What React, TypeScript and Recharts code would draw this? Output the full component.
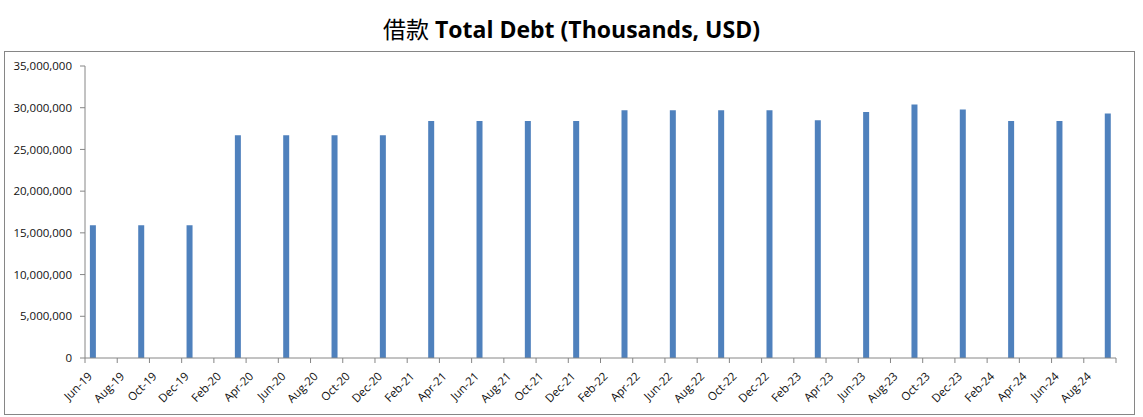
import { BarChart, Bar, XAxis, YAxis } from 'recharts';

// quarter-end dates (yyyy-mm) and total debt in thousands USD
const quarters = [
  '2019-06', '2019-09', '2019-12',
  '2020-03', '2020-06', '2020-09', '2020-12',
  '2021-03', '2021-06', '2021-09', '2021-12',
  '2022-03', '2022-06', '2022-09', '2022-12',
  '2023-03', '2023-06', '2023-09', '2023-12',
  '2024-03', '2024-06', '2024-09',
];
const debt = [
  15900000, 15900000, 15900000,
  26700000, 26700000, 26700000, 26700000,
  28400000, 28400000, 28400000, 28400000,
  29700000, 29700000, 29700000, 29700000,
  28500000, 29500000, 30400000, 29800000,
  28400000, 28400000, 29300000,
];
const tickLabels = [
  'Jun-19', 'Aug-19', 'Oct-19', 'Dec-19', 'Feb-20', 'Apr-20', 'Jun-20', 'Aug-20',
  'Oct-20', 'Dec-20', 'Feb-21', 'Apr-21', 'Jun-21', 'Aug-21', 'Oct-21', 'Dec-21',
  'Feb-22', 'Apr-22', 'Jun-22', 'Aug-22', 'Oct-22', 'Dec-22', 'Feb-23', 'Apr-23',
  'Jun-23', 'Aug-23', 'Oct-23', 'Dec-23', 'Feb-24', 'Apr-24', 'Jun-24', 'Aug-24',
];
const yTicks = [0, 5000000, 10000000, 15000000, 20000000, 25000000, 30000000, 35000000];

const START_YEAR = 2019;
const START_MONTH = 6;
const MONTHS = 64; // Jun-19 .. Sep-24

// month slot index, bar centered inside its month
const data = quarters.map((q, i) => {
  const [y, m] = q.split('-').map(Number);
  return { x: (y - START_YEAR) * 12 + (m - START_MONTH) + 0.5, debt: debt[i] };
});

const xTicks = Array.from({ length: MONTHS / 2 + 1 }, (_, i) => i * 2);

const AXIS = '#868686';
const FONT = '"Open Sans", "Noto Sans", sans-serif';

function MonthTick({ x, y, payload }: any) {
  const label = tickLabels[payload.value / 2] ?? '';
  const ax = x + 8;
  const ay = y + 12;
  return (
    <text
      x={ax}
      y={ay}
      transform={`rotate(-45, ${ax}, ${ay})`}
      textAnchor="end"
      fontSize={11.5}
      fontFamily={FONT}
      fill="#111"
    >
      {label}
    </text>
  );
}

export default function App() {
  return (
    <div style={{ position: 'absolute', left: 0, top: 0, width: 1143, height: 417, background: '#fff' }}>
      <div
        style={{
          position: 'absolute', left: 0, top: 11, width: 1143, textAlign: 'center',
          fontFamily: FONT, fontSize: 23, fontWeight: 700, color: '#000',
        }}
      >
        <span style={{ fontFamily: '"Noto Sans CJK SC", sans-serif', fontWeight: 400 }}>借款</span> Total Debt (Thousands, USD)
      </div>
      <div
        style={{
          position: 'absolute', left: 4, top: 51, width: 1129, height: 362,
          border: `1px solid ${AXIS}`,
        }}
      />
      <div style={{ position: 'absolute', left: 0, top: 0 }}>
        <BarChart
          width={1143}
          height={417}
          data={data}
          margin={{ top: 66, right: 27, left: 5, bottom: 9 }}
        >
          <XAxis
            dataKey="x"
            type="number"
            domain={[0, MONTHS]}
            ticks={xTicks}
            interval={0}
            tick={<MonthTick />}
            tickSize={5}
            stroke={AXIS}
            height={50}
            allowDataOverflow
          />
          <YAxis
            type="number"
            domain={[0, 35000000]}
            ticks={yTicks}
            interval={0}
            width={80}
            tickSize={5}
            tickMargin={8}
            stroke={AXIS}
            tick={{ fontSize: 11.5, fontFamily: FONT, fill: '#111' }}
            tickFormatter={(v: number) => v.toLocaleString('en-US')}
          />
          <Bar dataKey="debt" fill="#4F81BD" barSize={6} isAnimationActive={false} />
        </BarChart>
      </div>
    </div>
  );
}
